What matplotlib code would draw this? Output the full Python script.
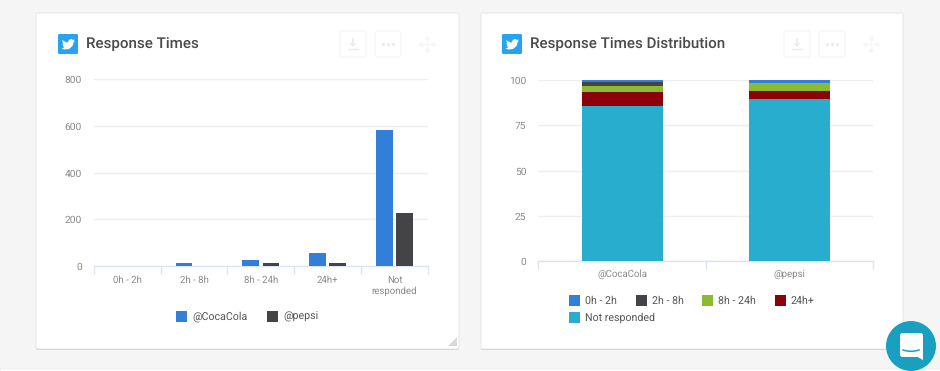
import matplotlib.pyplot as plt
from matplotlib.patches import FancyBboxPatch, Rectangle, Circle, Polygon
from matplotlib.transforms import ScaledTranslation
import numpy as np

plt.rcParams['font.family'] = ['Roboto', 'DejaVu Sans']
plt.rcParams['text.hinting'] = 'no_hinting'

W, H = 940, 371

# Response times (counts)
time_labels = ['0h - 2h', '2h - 8h', '8h - 24h', '24h+', 'Not\nresponded']
coca_counts = [0, 11, 25, 55, 583]
pepsi_counts = [0, 0, 12, 12, 225]

# Distribution (percent)
accounts = ['@CocaCola', '@pepsi']
dist_labels = ['0h - 2h', '2h - 8h', '8h - 24h', '24h+', 'Not responded']
dist_not = [85.6, 89.3]
dist_24 = [8.0, 4.6]
dist_8_24 = [3.3, 4.4]
dist_2_8 = [2.0, 0.2]
dist_0_2 = [1.1, 1.5]

BLUE = '#317fd8'
DARK = '#434348'
GREEN = '#8cbb2f'
RED = '#8b0009'
TEAL = '#29adce'
GRID = '#eeeeee'
AXIS = '#dde4f3'
TICK = '#8a8a8a'
TEXT = '#4a4a4a'


def px_axes(x0, y0, x1, y1):
    # axes from pixel box, y measured from the top
    return fig.add_axes([x0 / W, 1 - y1 / H, (x1 - x0) / W, (y1 - y0) / H])


fig = plt.figure(figsize=(W / 100, H / 100), dpi=100, facecolor='#f5f5f5')

# Background layer in pixels: cards, icons, buttons
bg = fig.add_axes([0, 0, 1, 1])
bg.set_xlim(0, W)
bg.set_ylim(H, 0)
bg.axis('off')


def card(x0, y0, x1, y1):
    bg.add_patch(FancyBboxPatch((x0, y0 + 1), x1 - x0, y1 - y0, boxstyle='round,pad=0,rounding_size=2',
                                fc='#c9c9c9', ec='none'))
    bg.add_patch(FancyBboxPatch((x0, y0), x1 - x0, y1 - y0, boxstyle='round,pad=0,rounding_size=2',
                                fc='white', ec='#e6e6e6', lw=0.7))


def bird(x, y):
    bg.add_patch(FancyBboxPatch((x, y), 20, 20, boxstyle='round,pad=0,rounding_size=1.5', fc='#29a3ef', ec='none'))
    # rough bird shape
    pts = [(4, 6), (8, 8.2), (10, 8.5), (10.8, 5.8), (13.5, 5), (15, 6), (16.8, 5.4), (15.8, 7), (17, 6.8),
           (15.7, 8.2), (14.5, 12), (11, 15), (6, 15.5), (3.5, 14.3), (6.3, 13.5), (4.6, 11.5), (5.6, 11.3),
           (4.2, 9.2), (5.2, 9.4)]
    bg.add_patch(Polygon([(x + a, y + b) for a, b in pts], fc='white', ec='none'))


def buttons(x):
    c = '#f6f6f6'
    bg.add_patch(FancyBboxPatch((x, 31), 26, 26, boxstyle='round,pad=0,rounding_size=2', fc='white', ec=c, lw=0.8))
    bg.add_patch(FancyBboxPatch((x + 35, 31), 26, 26, boxstyle='round,pad=0,rounding_size=2', fc='white', ec=c, lw=0.8))
    bg.plot([x + 13, x + 13], [39, 45], color='#ececec', lw=1.3)
    bg.plot([x + 8, x + 18], [48.5, 48.5], color='#ececec', lw=1)
    bg.add_patch(Polygon([(x + 9.5, 43), (x + 16.5, 43), (x + 13, 47)], fc='#ececec', ec='none'))
    bg.plot([x + 43, x + 48, x + 53], [44, 44, 44], ls='none', marker='o', ms=1.3, color='#ececec')
    cx = x + 87
    bg.plot([cx - 7, cx + 7], [44, 44], color='#f6f6f6', lw=0.8)
    bg.plot([cx, cx], [37, 51], color='#f6f6f6', lw=0.8)
    bg.plot([cx - 6, cx + 6, cx, cx], [44, 44, 38, 50], ls='none', marker='o', ms=2.2, color='#f6f6f6')


card(36, 13, 459, 349)
card(481, 13, 903, 349)
bg.add_patch(Rectangle((0, 368), W, 3, fc='#fafafa', ec='#eeeeee', lw=0.5))
bird(58, 34)
bird(502, 34)
bg.text(86, 44, 'Response Times', fontsize=10.9, color=TEXT, va='center', weight='medium')
bg.text(530, 44, 'Response Times Distribution', fontsize=10.9, color=TEXT, va='center', weight='medium')
buttons(340)
buttons(784)

# resize grip
bg.add_patch(Polygon([(448, 346), (457, 346), (457, 337)], fc='#d8d8d8', ec='none'))

# Left chart
ax = px_axes(93.7, 79, 428, 266)
ax.patch.set_alpha(0)
x = np.arange(len(time_labels))
ax.bar(x - 0.15, coca_counts, 0.25, color=BLUE, zorder=3)
ax.bar(x + 0.15, pepsi_counts, 0.25, color=DARK, zorder=3)
ax.set_xlim(-0.5, 4.5)
ax.set_ylim(0, 800)
ax.set_yticks([0, 200, 400, 600, 800])
ax.set_xticks(np.arange(-0.5, 5, 1))
ax.set_xticklabels([])
ax.set_xticks(x, minor=True)
ax.set_xticklabels(time_labels, minor=True, fontsize=6.9, color=TICK, linespacing=1.25)

# Right chart
ax2 = px_axes(538.3, 80, 873.3, 261)
ax2.patch.set_alpha(0)
x2 = np.arange(len(accounts))
series = [dist_not, dist_24, dist_8_24, dist_2_8, dist_0_2]
colors = [TEAL, RED, GREEN, DARK, BLUE]
bottom = np.zeros(len(accounts))
for vals, col in zip(series, colors):
    ax2.bar(x2, vals, 0.484, bottom=bottom, color=col, zorder=3)
    bottom += np.array(vals)
ax2.set_xlim(-0.5, 1.5)
ax2.set_ylim(0, 100)
ax2.set_yticks([0, 25, 50, 75, 100])
ax2.set_xticks([-0.5, 0.5, 1.5])
ax2.set_xticklabels([])
ax2.set_xticks(x2, minor=True)
ax2.set_xticklabels(accounts, minor=True, fontsize=6.9, color=TICK)

# y labels sit a little below the grid lines
nudge = ScaledTranslation(0, -1.2 / 100, fig.dpi_scale_trans)
for a in (ax, ax2):
    for s in ('top', 'left', 'right'):
        a.spines[s].set_visible(False)
    a.spines['bottom'].set_color(AXIS)
    a.spines['bottom'].set_linewidth(1)
    a.grid(axis='y', color=GRID, lw=1, zorder=0)
    a.set_axisbelow(True)
    a.tick_params(axis='y', length=0, labelsize=7.4, labelcolor=TICK, pad=8.6)
    a.tick_params(axis='x', which='major', length=6, color=AXIS, width=1)
    a.tick_params(axis='x', which='minor', length=0, pad=6.6)
    for lab in a.get_yticklabels():
        lab.set_verticalalignment('center')
        lab.set_transform(lab.get_transform() + nudge)
ax2.tick_params(axis='x', which='minor', pad=5.8)


# Legends drawn in pixels like the HTML legend
def legend_item(x, y, col, label):
    bg.add_patch(Rectangle((x, y - 5.5), 11, 11, fc=col, ec='none'))
    bg.text(x + 16, y + 0.8, label, fontsize=7.7, color='#555555', va='center')


legend_item(176, 316, BLUE, '@CocaCola')
legend_item(267, 316, DARK, '@pepsi')
legend_item(569, 300, BLUE, dist_labels[0])
legend_item(636, 300, DARK, dist_labels[1])
legend_item(702, 300, GREEN, dist_labels[2])
legend_item(775, 300, RED, dist_labels[3])
legend_item(569, 317, TEAL, dist_labels[4])

# Chat bubble
over = fig.add_axes([0, 0, 1, 1])
over.set_xlim(0, W)
over.set_ylim(H, 0)
over.axis('off')
over.patch.set_alpha(0)
over.add_patch(Circle((911, 346), 25, fc='#199fc0', ec='none'))
over.add_patch(FancyBboxPatch((900, 333), 23, 24, boxstyle='round,pad=0,rounding_size=2.5', fc='white', ec='none'))
over.add_patch(Polygon([(916, 356), (923, 356), (923, 359.5)], fc='white', ec='none'))
t = np.linspace(0, 1, 20)
over.plot(903 + 16 * t, 350 + 5 * t * (1 - t), color='#199fc0', lw=1.1)

fig.savefig('out.png', dpi=100, facecolor=fig.get_facecolor())
